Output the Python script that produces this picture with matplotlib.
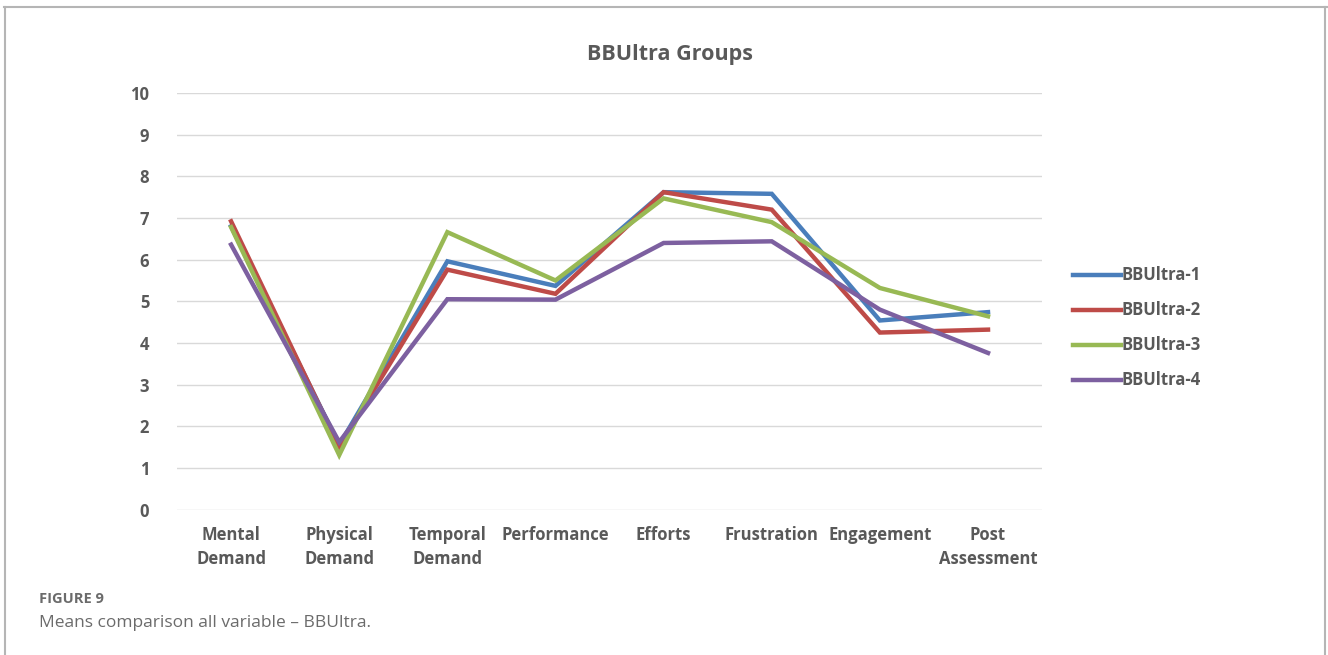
import matplotlib.pyplot as plt
import numpy as np

# means per variable for each group
categories = ['Mental\nDemand', 'Physical\nDemand', 'Temporal\nDemand', 'Performance',
              'Efforts', 'Frustration', 'Engagement', 'Post\nAssessment']
bbultra_1 = [6.80, 1.55, 5.96, 5.37, 7.62, 7.58, 4.54, 4.74]
bbultra_2 = [6.92, 1.51, 5.76, 5.18, 7.62, 7.20, 4.25, 4.32]
bbultra_3 = [6.78, 1.31, 6.66, 5.50, 7.47, 6.90, 5.32, 4.64]
bbultra_4 = [6.36, 1.62, 5.05, 5.04, 6.40, 6.44, 4.80, 3.76]
series_names = ['BBUltra-1', 'BBUltra-2', 'BBUltra-3', 'BBUltra-4']
colors = ['#4a7ebb', '#be4b48', '#98b954', '#7d60a0']

txt = '#595959'
plt.rcParams['font.family'] = ['Open Sans', 'DejaVu Sans']

fig = plt.figure(figsize=(13.28, 6.55), dpi=100)
ax = fig.add_axes([0.1333, 0.222, 0.6514, 0.636])

x = np.arange(len(categories))
for vals, name, c in zip([bbultra_1, bbultra_2, bbultra_3, bbultra_4], series_names, colors):
    ax.plot(x, vals, color=c, lw=3.2, label=name, solid_joinstyle='miter')

ax.set_xlim(-0.5, len(categories) - 0.5)
ax.set_ylim(0, 10)
ax.set_yticks(range(0, 11))
ax.set_xticks(x)
ax.set_xticklabels(categories, fontsize=12, fontweight='bold', color=txt, linespacing=1.4)
ax.tick_params(axis='y', labelsize=12, labelcolor=txt, length=0, pad=20)
ax.tick_params(axis='x', length=0, pad=12)
for lab in ax.get_yticklabels():
    lab.set_fontweight('bold')
ax.grid(axis='y', color='#d9d9d9', lw=1)
ax.set_axisbelow(True)
for s in ax.spines.values():
    s.set_visible(False)

fig.text(0.5045, 0.917, 'BBUltra Groups', fontsize=15.5, fontweight='bold', color=txt,
         ha='center', va='center')

leg = ax.legend(loc='center left', bbox_to_anchor=(1.018, 0.436), frameon=False,
                fontsize=12, handlelength=2.9, handletextpad=0.05, labelspacing=1.02)
for t in leg.get_texts():
    t.set_fontweight('bold')
    t.set_color(txt)

# figure caption below the chart
fig.text(0.029, 0.08, 'FIGURE 9', fontsize=10.5, fontweight='bold', color='#6b6b6b')
fig.text(0.029, 0.043, 'Means comparison all variable \u2013 BBUltra.', fontsize=12.5, color='#6b6b6b')

# thin frame around the page area
frame_kw = dict(color='#b5b5b5', lw=1.5, transform=fig.transFigure)
fig.add_artist(plt.Line2D([0.003, 0.999], [0.989, 0.989], **frame_kw))
fig.add_artist(plt.Line2D([0.004, 0.004], [0.0, 0.989], **frame_kw))
fig.add_artist(plt.Line2D([0.998, 0.998], [0.0, 0.989], **frame_kw))

fig.savefig('out.png', dpi=100)
